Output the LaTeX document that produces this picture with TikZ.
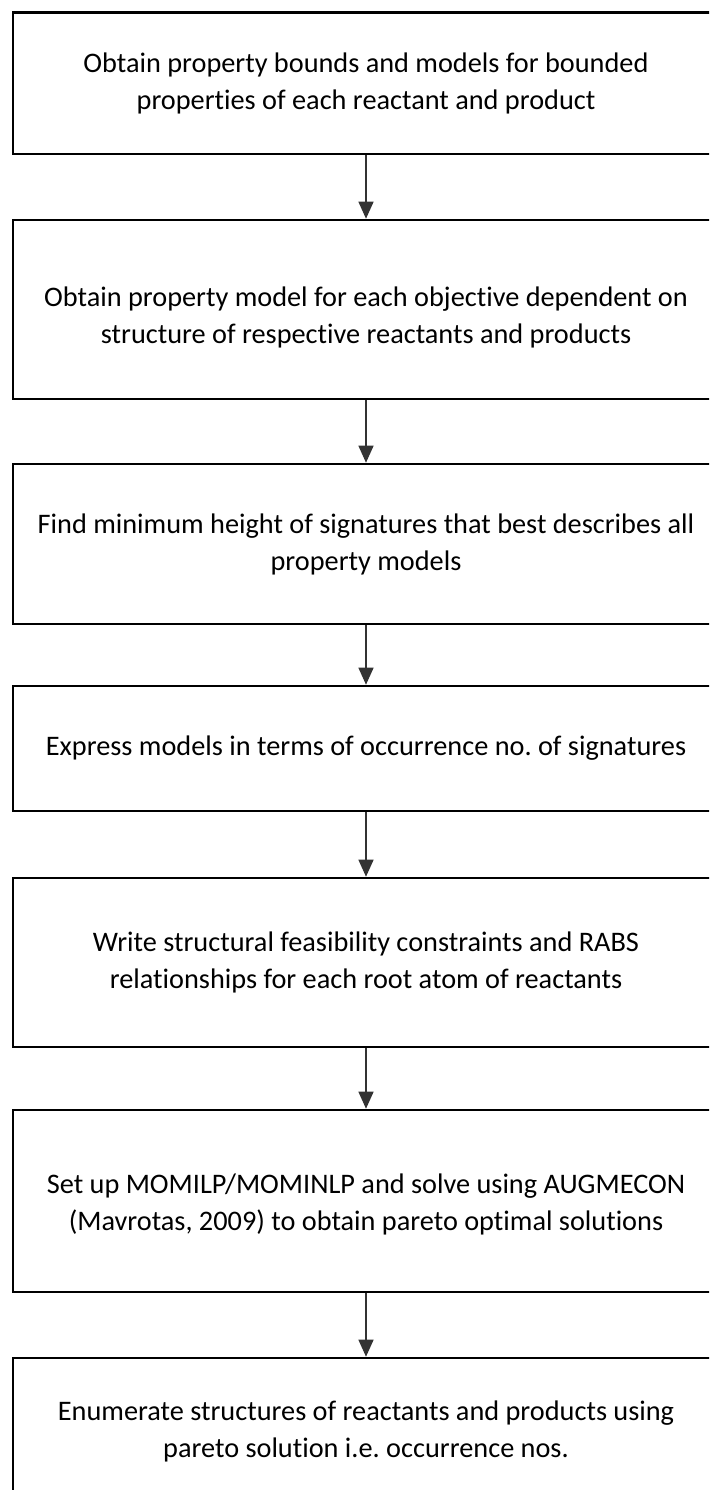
\documentclass[tikz,border=0pt]{standalone}
\usepackage{fontspec}
\setmainfont{Carlito}[Ligatures=NoCommon]
\usetikzlibrary{arrows.meta}
\frenchspacing
\begin{document}
\begin{tikzpicture}[x=1pt,y=-1pt,
  stepbox/.style={draw=black, line width=2.6pt, rectangle, inner sep=0pt,
    minimum width=706pt},
  steptext/.style={align=center, text=black, inner sep=0pt,
    font=\fontsize{28.3}{37}\selectfont},
  flow/.style={draw=black!80, line width=1.3pt,
    -{Triangle[width=15pt,length=17pt]}}]
\clip (0,0) rectangle (709,1490);
\fill[white] (0,0) rectangle (709,1490);
% steps: centre x = 366, heights from top/bottom edges
\node[stepbox, minimum height=141.5pt,
  label={[steptext]center:{Obtain property bounds and models for bounded\\properties of each reactant and product}}]
  (s1) at (366,83.2) {};
\node[stepbox, minimum height=179pt,
  label={[steptext,yshift=-8pt]center:{Obtain property model for each objective dependent on\\structure of respective reactants and products}}]
  (s2) at (366,309.5) {};
\node[stepbox, minimum height=160pt,
  label={[steptext]center:{Find minimum height of signatures that best describes all\\property models}}]
  (s3) at (366,544) {};
\node[stepbox, minimum height=125pt,
  label={[steptext]center:{Express models in terms of occurrence no. of signatures}}]
  (s4) at (366,748.5) {};
\node[stepbox, minimum height=169pt,
  label={[steptext]center:{Write structural feasibility constraints and RABS\\relationships for each root atom of reactants}}]
  (s5) at (366,962.5) {};
\node[stepbox, minimum height=182pt,
  label={[steptext,yshift=-3pt]center:{Set up MOMILP/MOMINLP and solve using AUGMECON\\(Mavrotas, 2009) to obtain pareto optimal solutions}}]
  (s6) at (366,1201) {};
\node[stepbox, minimum height=147pt,
  label={[steptext]center:{Enumerate structures of reactants and products using\\pareto solution i.e. occurrence nos.}}]
  (s7) at (366,1431.5) {};
% connectors between consecutive steps
\draw[flow] (s1) -- (s2);
\draw[flow] (s2) -- (s3);
\draw[flow] (s3) -- (s4);
\draw[flow] (s4) -- (s5);
\draw[flow] (s5) -- (s6);
\draw[flow] (s6) -- (s7);
\end{tikzpicture}
\end{document}
